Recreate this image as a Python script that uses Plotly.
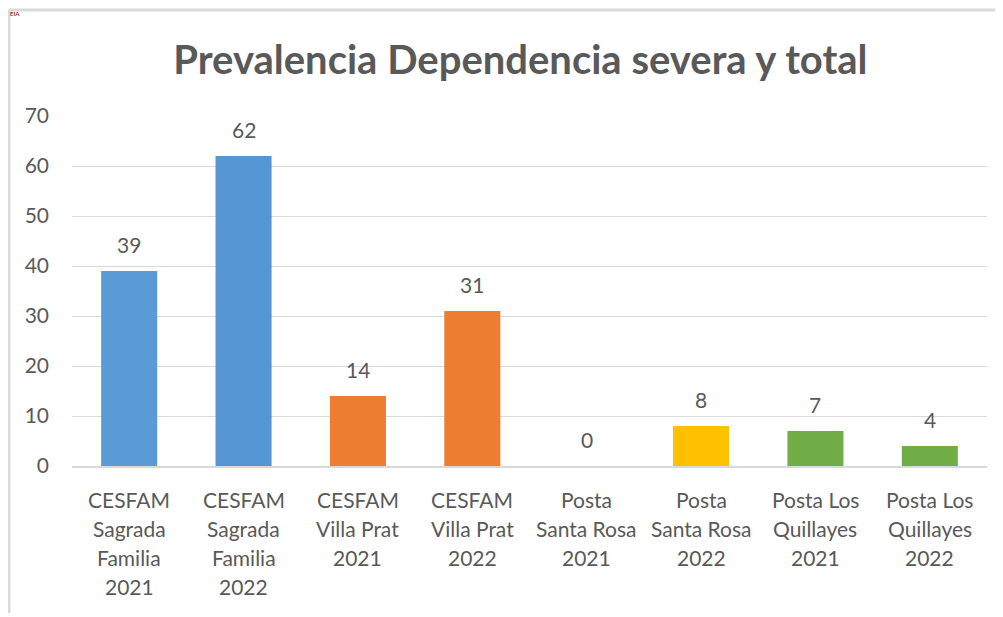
import plotly.graph_objects as go

# Datos
categorias = [
    "CESFAM<br>Sagrada<br>Familia<br>2021",
    "CESFAM<br>Sagrada<br>Familia<br>2022",
    "CESFAM<br>Villa Prat<br>2021",
    "CESFAM<br>Villa Prat<br>2022",
    "Posta<br>Santa Rosa<br>2021",
    "Posta<br>Santa Rosa<br>2022",
    "Posta Los<br>Quillayes<br>2021",
    "Posta Los<br>Quillayes<br>2022",
]
valores = [39, 62, 14, 31, 0, 8, 7, 4]
y_ticks = [0, 10, 20, 30, 40, 50, 60, 70]

COLORES = ["#5b9bd5", "#5596d4", "#ed7d31", "#ed7d31",
           "#ffc000", "#ffc000", "#70ad47", "#70ad47"]
TEXTO = "#595959"
GRID = "#d9d9d9"
FONT = "Lato"

fig = go.Figure()
fig.add_trace(go.Bar(
    x=categorias, y=valores,
    marker=dict(color=COLORES, line=dict(width=0)),
    width=0.49,
))

# etiquetas de datos sobre las barras
for c, v in zip(categorias, valores):
    fig.add_annotation(x=c, y=v, text=str(v), showarrow=False,
                       yanchor="bottom", yshift=12,
                       font=dict(size=21, color=TEXTO, family=FONT))

# etiquetas de categoria, una linea a la vez (interlineado como Excel)
for c in categorias:
    for i, linea in enumerate(c.split("<br>")):
        fig.add_annotation(x=c, y=0, yref="paper", text=linea, showarrow=False,
                           yanchor="middle", yshift=-(33 + 29 * i),
                           font=dict(size=21, color=TEXTO, family=FONT))

# marco del grafico (borde izquierdo y superior)
fig.add_shape(type="line", xref="paper", yref="paper",
              x0=-0.0689, x1=-0.0689, y0=1.303, y1=-0.42,
              line=dict(color=GRID, width=3))
fig.add_shape(type="line", xref="paper", yref="paper",
              x0=-0.0689, x1=1.03, y0=1.303, y1=1.303,
              line=dict(color=GRID, width=3))
fig.add_annotation(xref="paper", yref="paper", x=-0.0699, y=1.3086,
                   xanchor="left", yanchor="top", text="<b>EIA</b>",
                   showarrow=False, font=dict(size=6, color="#b22222", family=FONT))

fig.update_layout(
    width=995, height=609,
    paper_bgcolor="white", plot_bgcolor="white",
    margin=dict(l=64, r=16, t=108, b=151),
    font=dict(family=FONT, color=TEXTO),
    title=dict(text="<b>Prevalencia Dependencia severa y total</b>",
               x=0.515, xanchor="center", y=0.9146, yanchor="middle",
               font=dict(size=40, color=TEXTO, family=FONT)),
    showlegend=False,
    xaxis=dict(showgrid=False, showline=True, linecolor=GRID, linewidth=2,
               ticks="", showticklabels=False),
    yaxis=dict(range=[0, 70], tickvals=y_ticks, showgrid=True, gridcolor=GRID,
               gridwidth=1, zeroline=False, showline=False, ticks="",
               ticklabelstandoff=22,
               tickfont=dict(size=21, color=TEXTO)),
)

fig.write_html("out.html")
